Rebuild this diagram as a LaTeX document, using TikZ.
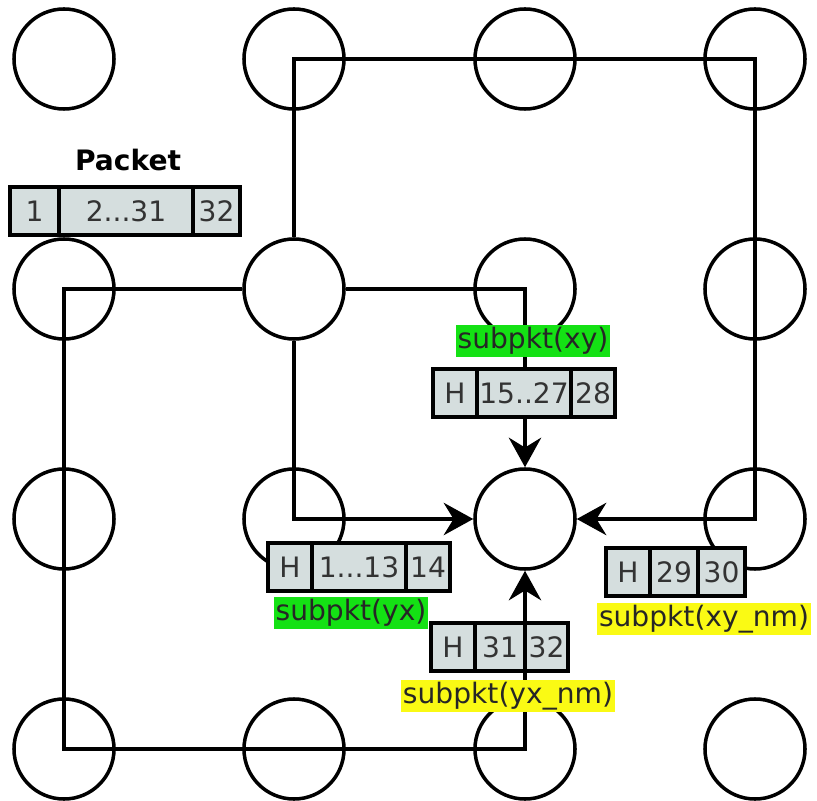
\documentclass[tikz,border=0pt]{standalone}
\usepackage{fontspec}
\setmainfont{DejaVu Sans}
\usepackage{tikz}
\usetikzlibrary{arrows.meta,positioning}

\definecolor{cellgray}{RGB}{213,222,222}
\definecolor{taggreen}{RGB}{20,225,20}
\definecolor{tagyellow}{RGB}{250,250,20}
\newcommand\pktfont{\fontsize{20}{22}\selectfont}

\begin{document}
\begin{tikzpicture}[
    x=0.025cm, y=-0.025cm,
    router/.style={draw, circle, line width=2.5pt, minimum size=2.5cm, inner sep=0pt},
    link/.style={line width=2.7pt, -{Stealth[length=21pt,width=23pt,inset=7pt]}},
    cell/.style={draw, line width=2.7pt, fill=cellgray, text=black!80, minimum height=1.2cm, inner sep=0pt, outer sep=0pt, font=\pktfont},
    tag/.style={inner sep=1.5pt, text height=15pt, text depth=5pt, text=black!85, font=\pktfont}
  ]
  \useasboundingbox (0,0) rectangle (817,801);

  % 4x4 grid of routers
  \foreach \r/\y in {1/59,2/289,3/519,4/749}
    \foreach \c/\x in {1/64,2/294,3/525,4/755}
      \node[router] (r\r\c) at (\x,\y) {};

  % the four routes from r22 to r33
  \draw[link] (r22.north) -- (r12.center) -- (r14.center) -- (r34.center) -- (r33.east);
  \draw[link] (r22.east) -- (r23.center) -- (r33.north);
  \draw[link] (r22.south) -- (r32.center) -- (r33.west);
  \draw[link] (r22.west) -- (r21.center) -- (r41.center) -- (r43.center) -- (r33.south);

  % packet
  \node[font=\pktfont\bfseries] (ptitle) at (128,160) {Packet};
  \node[cell, minimum width=1.225cm, anchor=west] (pk1) at (10,211) {1};
  \node[cell, minimum width=3.35cm, right=0pt of pk1] (pk2) {2...31};
  \node[cell, minimum width=1.175cm, right=0pt of pk2] (pk3) {32};

  % subpacket xy
  \node[tag, fill=taggreen] (lxy) at (533,341) {subpkt(xy)};
  \node[cell, minimum width=1.1cm, anchor=west] (xy1) at (433,393) {H};
  \node[cell, minimum width=2.35cm, right=0pt of xy1] (xy2) {15..27};
  \node[cell, minimum width=1.1cm, right=0pt of xy2] (xy3) {28};

  % subpacket yx
  \node[cell, minimum width=1.1cm, anchor=west] (yx1) at (268,567) {H};
  \node[cell, minimum width=2.35cm, right=0pt of yx1] (yx2) {1...13};
  \node[cell, minimum width=1.1cm, right=0pt of yx2] (yx3) {14};
  \node[tag, fill=taggreen] (lyx) at (351,613) {subpkt(yx)};

  % subpacket xy_nm
  \node[cell, minimum width=1.1cm, anchor=west] (xn1) at (606,572) {H};
  \node[cell, minimum width=1.2cm, right=0pt of xn1] (xn2) {29};
  \node[cell, minimum width=1.175cm, right=0pt of xn2] (xn3) {30};
  \node[tag, fill=tagyellow] (lxn) at (704,619) {subpkt(xy\_nm)};

  % subpacket yx_nm
  \node[cell, minimum width=1.1cm, anchor=west] (yn1) at (431,647) {H};
  \node[cell, minimum width=1.25cm, right=0pt of yn1] (yn2) {31};
  \node[cell, minimum width=1.075cm, right=0pt of yn2] (yn3) {32};
  \node[tag, fill=tagyellow] (lyn) at (508,696) {subpkt(yx\_nm)};
\end{tikzpicture}
\end{document}
